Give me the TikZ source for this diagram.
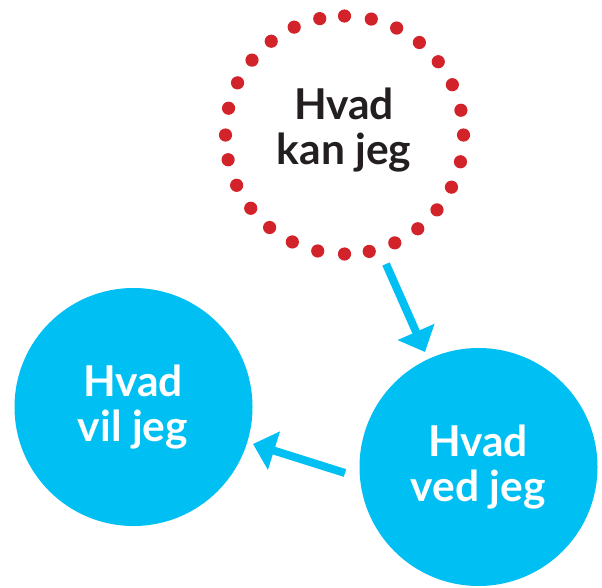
\documentclass[tikz,border=0pt]{standalone}
\usepackage{fontspec}
\setmainfont{Lato}
\usetikzlibrary{arrows.meta,calc}
\definecolor{cblue}{RGB}{0,191,243}
\definecolor{cred}{RGB}{210,35,42}
\definecolor{ctext}{RGB}{35,31,32}
\begin{document}
\begin{tikzpicture}[x=1pt,y=-1pt,
  bluecirc/.style={circle,fill=cblue,draw=none,minimum size=238pt,inner sep=0pt,outer sep=0pt},
  ringcirc/.style={circle,draw=none,minimum size=238pt,inner sep=0pt,outer sep=0pt},
  lbl/.style={align=center,inner sep=0pt,font=\fontsize{42.5}{45}\selectfont\bfseries},
  arr/.style={draw=cblue,line width=8pt,-{Triangle[width=39pt,length=22pt]}}]
\useasboundingbox (0,0) rectangle (602,587);
\node[ringcirc] (kan) at (344.5,135) {};
\foreach \a in {0,...,27}{
  \fill[cred] (kan.{\a*360/28}) circle (6.6pt);
}
\node[bluecirc] (vil) at (133.5,407) {};
\node[bluecirc] (ved) at (478.5,467) {};
\node[lbl,text=ctext] (kanT) at (344,130) {Hvad\\kan jeg};
\node[lbl,text=white] (vilT) at (133,407) {Hvad\\vil jeg};
\node[lbl,text=white] (vedT) at (478,467) {Hvad\\ved jeg};
\draw[arr] ($(kan)+(41.5,129)$) -- ($(ved)+(-53.5,-115)$);
\draw[arr] ($(ved)+(-133.5,6)$) -- ($(vil)+(119.5,37)$);
\end{tikzpicture}
\end{document}
